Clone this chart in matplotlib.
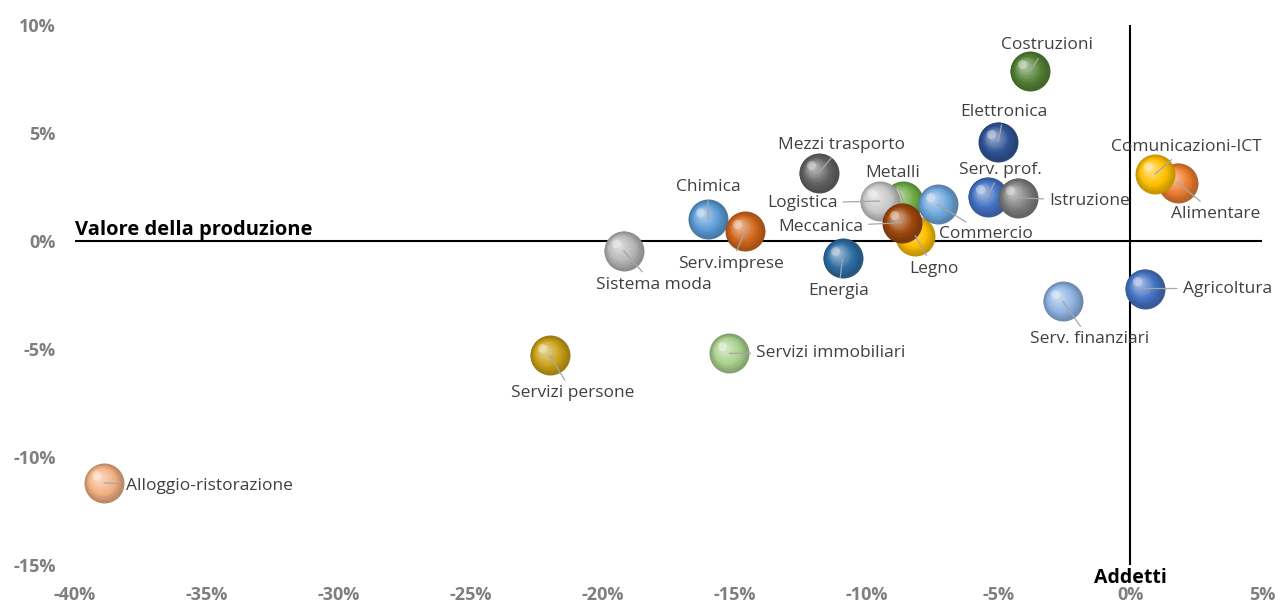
import numpy as np
import matplotlib.pyplot as plt
import matplotlib.colors as mcolors
from matplotlib.transforms import ScaledTranslation

plt.rcParams['font.family'] = ['Open Sans', 'DejaVu Sans']

# settori: variazione % addetti (x) e valore della produzione (y)
settori = ['Alloggio-ristorazione', 'Servizi persone', 'Servizi immobiliari', 'Sistema moda',
           'Chimica', 'Serv.imprese', 'Energia', 'Mezzi trasporto', 'Metalli', 'Legno',
           'Logistica', 'Meccanica', 'Commercio', 'Costruzioni', 'Elettronica', 'Serv. prof.',
           'Istruzione', 'Serv. finanziari', 'Agricoltura', 'Alimentare', 'Comunicazioni-ICT']
addetti = [-38.9, -22.0, -15.2, -19.2, -16.0, -14.6, -10.9, -11.8, -8.6, -8.15,
           -9.5, -8.65, -7.3, -3.8, -5.0, -5.4, -4.25, -2.55, 0.55, 1.8, 0.95]
produzione = [-11.2, -5.3, -5.2, -0.45, 1.0, 0.45, -0.8, 3.15, 1.85, 0.25,
              1.85, 0.85, 1.7, 7.85, 4.6, 2.05, 2.0, -2.8, -2.2, 2.7, 3.1]
colori = ['#F4B183', '#C9A017', '#A9D18E', '#B7B7B7', '#5B9BD5', '#D0661C', '#2E6DA4',
          '#636363', '#70AD47', '#FFC000', '#C9C9C9', '#9E480E', '#6FA8DC', '#548235',
          '#2F5597', '#4472C4', '#7F7F7F', '#8FB4E3', '#4472C4', '#ED7D31', '#FFC000']
# posizione etichette (offset in pixel rispetto alla bolla, allineamento)
etichette = [(22, -3, 'left'), (23, -38, 'center'), (27, 0, 'left'), (30, -34, 'center'),
             (0, 32, 'center'), (-14, -33, 'center'), (-4, -33, 'center'), (23, 28, 'center'),
             (-11, 28, 'center'), (19, -33, 'center'), (-42, -2, 'right'), (-39, -4, 'right'),
             (48, -30, 'center'), (17, 26, 'center'), (6, 30, 'center'), (13, 27, 'center'),
             (31, -3, 'left'), (27, -38, 'center'), (38, 0, 'left'), (38, -31, 'center'),
             (31, 27, 'center')]

fig = plt.figure(figsize=(12.87, 6.12), dpi=100)
ax = fig.add_axes([75/1287, 1 - 565/612, (1262 - 75)/1287, (565 - 25)/612])
ax.set_xlim(-40, 5)
ax.set_ylim(-15, 10)

R = 20 * 0.72  # raggio bolla in punti


def mix(c1, c2, t):
    a = np.array(mcolors.to_rgb(c1))
    b = np.array(mcolors.to_rgb(c2))
    return tuple(a + (b - a) * t)


def sfera(x, y, col, z):
    scuro = mix(col, 'black', 0.25)
    chiaro = mix(col, 'white', 0.5)
    n = 16
    for i in range(n):
        f = i / (n - 1)
        r = R * (1 - 0.82 * f)
        off = ScaledTranslation(-0.3 * R * f / 72, 0.3 * R * f / 72, fig.dpi_scale_trans)
        c = mix(scuro, col, f / 0.4) if f < 0.4 else mix(col, chiaro, (f - 0.4) / 0.6)
        ax.scatter([x], [y], s=(2 * r) ** 2, color=[c], linewidths=0, alpha=0.97,
                   transform=ax.transData + off, zorder=z)
    off = ScaledTranslation(-0.38 * R / 72, 0.38 * R / 72, fig.dpi_scale_trans)
    ax.scatter([x], [y], s=(0.45 * R) ** 2, color='white', alpha=0.3, linewidths=0,
               transform=ax.transData + off, zorder=z)


for i, (x, y, col) in enumerate(zip(addetti, produzione, colori)):
    sfera(x, y, col, 3 + i * 0.01)

for i, nome in enumerate(settori):
    dx, dy, ha = etichette[i]
    ax.annotate(nome, xy=(addetti[i], produzione[i]), xytext=(dx * 0.72, dy * 0.72),
                textcoords='offset points', ha=ha, va='center', fontsize=12.5,
                color='#404040', zorder=10,
                arrowprops=dict(arrowstyle='-', color='#A6A6A6', lw=0.9,
                                shrinkA=2, shrinkB=0))

ax.axhline(0, color='black', lw=1.5, zorder=2)
ax.axvline(0, color='black', lw=1.5, zorder=2)

for s in ax.spines.values():
    s.set_visible(False)

xt = np.arange(-40, 6, 5)
yt = np.arange(-15, 11, 5)
ax.set_xticks(xt)
ax.set_xticklabels([f'{v}%' for v in xt])
ax.set_yticks(yt)
ax.set_yticklabels([f'{v}%' for v in yt])
ax.tick_params(length=0, labelsize=13, labelcolor='#7F7F7F')
ax.tick_params(axis='x', pad=15)
ax.tick_params(axis='y', pad=14)
for t in ax.get_xticklabels() + ax.get_yticklabels():
    t.set_fontweight('bold')

ax.annotate('Valore della produzione', xy=(-40, 0), xytext=(0, 1), textcoords='offset points',
            ha='left', va='bottom', fontsize=14.5, fontweight='bold', color='black')
ax.annotate('Addetti', xy=(0, -15), xytext=(0, -2), textcoords='offset points',
            ha='center', va='top', fontsize=14, fontweight='bold', color='black')

fig.savefig('out.png', dpi=100)
